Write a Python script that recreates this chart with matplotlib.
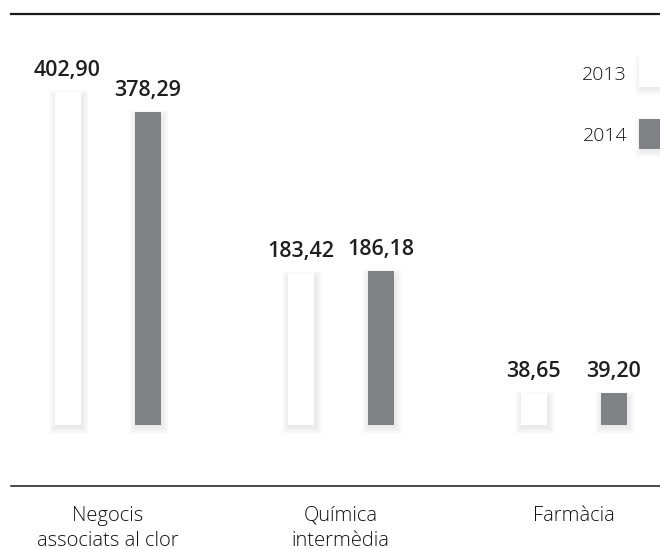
import matplotlib
matplotlib.use("Agg")
import matplotlib.pyplot as plt
from matplotlib.patches import Rectangle
from matplotlib.lines import Line2D
from matplotlib import transforms

# Data
categories = ["Negocis\nassociats al clor", "Química\nintermèdia", "Farmàcia"]
years = ["2013", "2014"]
values_2013 = [402.90, 183.42, 38.65]
values_2014 = [378.29, 186.18, 39.20]

colors = {"2013": "#ffffff", "2014": "#808184"}
text_color = "#1f1f1f"

W, H, DPI = 660, 549, 100
fig = plt.figure(figsize=(W / DPI, H / DPI), dpi=DPI)
fig.patch.set_facecolor("white")

# Axes geometry (in pixels)
base_px = 425          # baseline of the bars, from top
px_per_unit = 0.8266   # vertical scale
group_step = 233.0     # distance between groups in pixels
first_center = 107.5

ax = fig.add_axes([0, (H - base_px) / H, 1, base_px / H])
ax.set_xlim(-first_center / group_step, (W - first_center) / group_step)
ax.set_ylim(0, base_px / px_per_unit)
ax.axis("off")

ux = 1.0 / group_step      # data x-units per pixel
uy = 1.0 / px_per_unit     # data y-units per pixel

offset = 40 * ux
bar_w = 26 * ux


def shadowed_bar(x_center, height, color):
    x0 = x_center - bar_w / 2
    # soft drop shadow built from stacked translucent layers
    dx, dy = 1.5 * ux, -2.0 * uy
    for k in range(1, 8):
        ax.add_patch(Rectangle((x0 + dx - k * ux, dy - k * uy),
                               bar_w + 2 * k * ux, height + 2 * k * uy - 3 * uy,
                               facecolor="#000000", edgecolor="none",
                               alpha=0.012, zorder=2, clip_on=False))
    ax.add_patch(Rectangle((x0, 0), bar_w, height, facecolor=color,
                           edgecolor="none", zorder=3, clip_on=False))


label_font = dict(family=["Open Sans", "DejaVu Sans"], fontsize=15.5,
                  fontweight="semibold", color=text_color)

for i, (v13, v14) in enumerate(zip(values_2013, values_2014)):
    for x, v, yr in ((i - offset, v13, "2013"), (i + offset, v14, "2014")):
        shadowed_bar(x, v, colors[yr])
        ax.annotate(f"{v:.2f}".replace(".", ","), xy=(x, v),
                    xytext=(0, 11.5), textcoords="offset points",
                    ha="center", va="baseline", zorder=4, **label_font)

# Category labels under the lower rule
light_font = dict(family=["Open Sans", "DejaVu Sans"], fontweight="light",
                  color="#111111")
trans = transforms.blended_transform_factory(ax.transData, fig.transFigure)
for i, cat in enumerate(categories):
    ax.text(i, 1 - 506 / H, cat, transform=trans, ha="center", va="top",
            fontsize=14.5, linespacing=1.3, clip_on=False, **light_font)

# Horizontal rules
fig.add_artist(Line2D([11 / W, 1], [1 - 14 / H, 1 - 14 / H],
                      color="#1a1a1a", lw=1.6))
fig.add_artist(Line2D([11 / W, 1], [1 - 486 / H, 1 - 486 / H],
                      color="#1a1a1a", lw=1.1))

# Legend at the right edge (swatches run off the figure)
for yr, cy, ty in (("2013", 72, 75), ("2014", 134, 136)):
    sw_x, sw_w, sw_h = 639, 26, 30
    for k in range(1, 7):
        fig.add_artist(Rectangle(((sw_x + 1.5 - k) / W, 1 - (cy + sw_h / 2 + 2 + k) / H),
                                 (sw_w + 2 * k) / W, (sw_h + 2 * k - 3) / H,
                                 transform=fig.transFigure, facecolor="#000000",
                                 edgecolor="none", alpha=0.012, zorder=2))
    fig.add_artist(Rectangle((sw_x / W, 1 - (cy + sw_h / 2) / H), sw_w / W, sw_h / H,
                             transform=fig.transFigure, facecolor=colors[yr],
                             edgecolor="none", zorder=3))
    fig.text(627 / W, 1 - ty / H, yr, ha="right", va="center",
             fontsize=14, **light_font)

fig.savefig("out.png", dpi=DPI, facecolor="white")
